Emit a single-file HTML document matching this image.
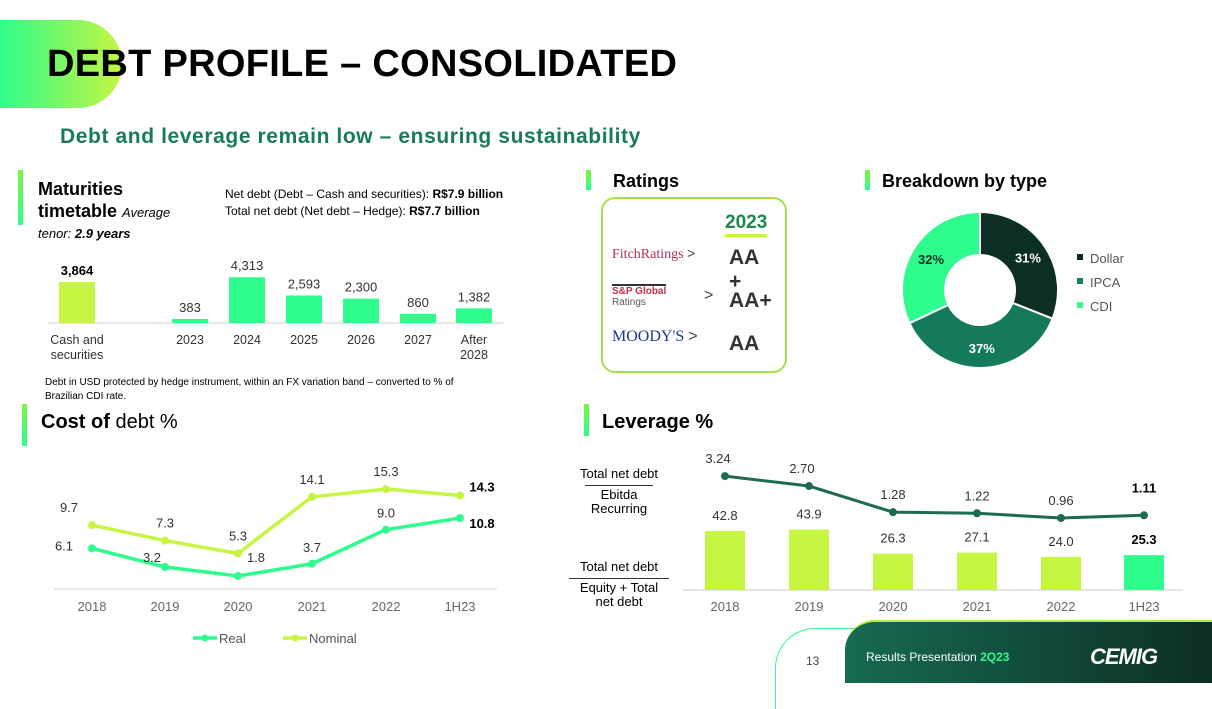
<!DOCTYPE html>
<html><head><meta charset="utf-8"><style>
body{margin:0;width:1212px;height:681px;overflow:hidden;background:#fff;font-family:"Liberation Sans",sans-serif;position:relative}
.a{position:absolute;white-space:nowrap}
.bar{position:absolute;width:5px;background:linear-gradient(#7df542,#2efc8c)}
</style></head><body>
<div class="a" style="left:0;top:20px;width:122px;height:88px;border-radius:0 50px 50px 0;background:linear-gradient(90deg,#2efc8c,#c6f542)"></div>
<div class="a" style="left:47px;top:43px;font-size:38px;font-weight:bold;color:#000;letter-spacing:0.3px">DEBT PROFILE – CONSOLIDATED</div>
<div class="a" style="left:60px;top:125px;font-size:21px;font-weight:bold;color:#1a7a5a;letter-spacing:0.6px">Debt and leverage remain low – ensuring sustainability</div>

<div class="bar" style="left:18px;top:170px;height:55px"></div>
<div class="a" style="left:38px;top:178px;font-size:18px;font-weight:bold;line-height:22px">Maturities<br>timetable <span style="font-size:13px;font-weight:normal;font-style:italic">Average</span></div>
<div class="a" style="left:38px;top:226px;font-size:13px;font-style:italic">tenor: <b>2.9 years</b></div>
<div class="a" style="left:225px;top:186px;font-size:12px;line-height:17px">Net debt (Debt – Cash and securities): <b>R$7.9 billion</b><br>Total net debt (Net debt – Hedge): <b>R$7.7 billion</b></div>
<div class="a" style="left:45px;top:376px;font-size:10px;line-height:14px">Debt in USD protected by hedge instrument, within an FX variation band – converted to % of<br>Brazilian CDI rate.</div>

<div class="bar" style="left:586px;top:170px;height:20px"></div>
<div class="a" style="left:613px;top:171px;font-size:18px;font-weight:bold">Ratings</div>
<div class="a" style="left:601px;top:197px;width:182px;height:172px;border:2px solid #a8e04a;border-radius:14px"></div>
<div class="a" style="left:725px;top:212px;font-size:19px;font-weight:bold;color:#1a8a4a;border-bottom:3px solid #c6f542;line-height:22px">2023</div>
<div class="a" style="left:612px;top:245px;font-size:14px;font-family:'Liberation Serif',serif;color:#b0305a">FitchRatings <span style="color:#444;font-family:'Liberation Sans'">&gt;</span></div>
<div class="a" style="left:612px;top:284px;font-size:10px;line-height:11px;color:#c0304a;font-weight:bold;border-top:2px solid #333">S&amp;P Global<br><span style="color:#555;font-weight:normal">Ratings</span></div>
<div class="a" style="left:704px;top:287px;font-size:16px;color:#444">&gt;</div>
<div class="a" style="left:612px;top:328px;font-size:16px;font-family:'Liberation Serif',serif;color:#1a3a8a">MOODY'S <span style="color:#444;font-family:'Liberation Sans'">&gt;</span></div>
<div class="a" style="left:729px;top:246px;font-size:21px;font-weight:bold;color:#333">AA</div>
<div class="a" style="left:729px;top:272px;font-size:21px;font-weight:bold;color:#333;line-height:19px">+<br>AA+</div>
<div class="a" style="left:729px;top:332px;font-size:21px;font-weight:bold;color:#333">AA</div>

<div class="bar" style="left:865px;top:170px;height:20px"></div>
<div class="a" style="left:882px;top:171px;font-size:18px;font-weight:bold">Breakdown by type</div>

<div class="bar" style="left:22px;top:404px;height:42px"></div>
<div class="a" style="left:41px;top:411px;font-size:20px"><b>Cost of</b> debt %</div>
<div class="bar" style="left:584px;top:404px;height:32px"></div>
<div class="a" style="left:602px;top:411px;font-size:20px;font-weight:bold">Leverage %</div>

<div class="a" style="left:567px;top:467px;font-size:13px;text-align:center;line-height:14px;width:104px">Total net debt<div style="border-top:1px solid #333;margin:4px 18px 2px;"></div>Ebitda<br>Recurring</div>
<div class="a" style="left:567px;top:560px;font-size:13px;text-align:center;line-height:14px;width:104px">Total net debt<div style="border-top:1px solid #333;margin:4px 2px 2px;"></div>Equity + Total<br>net debt</div>

<div class="a" style="left:775px;top:628px;width:120px;height:80px;border:1.5px solid #2efc8c;border-radius:40px 0 0 0;border-right:none;border-bottom:none"></div>
<div class="a" style="left:806px;top:654px;font-size:12px;color:#444">13</div>
<div class="a" style="left:845px;top:620px;width:367px;height:61px;border-radius:30px 0 0 0;background:linear-gradient(90deg,#176a52,#0d2e25);border-top:2px solid #a8f042"></div>
<div class="a" style="left:866px;top:650px;font-size:12px;color:#fff">Results Presentation <b style="color:#2efc8c">2Q23</b></div>
<div class="a" style="left:1090px;top:644px;font-size:22px;font-weight:bold;color:#fff;letter-spacing:-1px;font-style:italic">CEMIG</div>

<svg class="a" style="left:0;top:0" width="1212" height="681" id="svg"></svg>
<script>
const matCats=["Cash and|securities","2023","2024","2025","2026","2027","After|2028"];
const matVals=[3864,383,4313,2593,2300,860,1382];
const matLabels=["3,864","383","4,313","2,593","2,300","860","1,382"];
const years=["2018","2019","2020","2021","2022","1H23"];
const realVals=[6.1,3.2,1.8,3.7,9.0,10.8];
const nomVals=[9.7,7.3,5.3,14.1,15.3,14.3];
const levBars=[42.8,43.9,26.3,27.1,24.0,25.3];
const levLine=[3.24,2.70,1.28,1.22,0.96,1.11];
const pieNames=["Dollar","IPCA","CDI"];
const pieVals=[31,37,32];
const svg=document.getElementById('svg');
const NS="http://www.w3.org/2000/svg";
function mk(t,a,txt){const e=document.createElementNS(NS,t);for(const k in a)e.setAttribute(k,a[k]);if(txt!==undefined)e.textContent=txt;svg.appendChild(e);return e;}
function txt(x,y,s,o){return mk('text',Object.assign({x:x,y:y,'font-size':13,'text-anchor':'middle',fill:'#333','font-family':'Liberation Sans'},o||{}),s);}
// maturities
const mx=[77,190,247,304,361,418,474], mBase=323, mS=41/3864;
mk('line',{x1:48,x2:503,y1:mBase,y2:mBase,stroke:'#ccc'});
matVals.forEach((v,i)=>{const h=v*mS;
 const r=mk('rect',{x:mx[i]-18,y:mBase-h,width:36,height:h,fill:i==0?'#c6f542':'#2efc8c'});
 
 txt(mx[i],mBase-h-7,matLabels[i],{'font-weight':i==0?'bold':'normal','fill':i==0?'#000':'#333'});
 matCats[i].split('|').forEach((l,j)=>txt(mx[i],344+j*15,l,{'font-size':12.5}));
});
// cost of debt
const cx=[92,165,238,312,386,460]; const cy=v=>587.6-v*6.44;
mk('line',{x1:54,x2:497,y1:589,y2:589,stroke:'#ccc'});
years.forEach((y,i)=>txt(cx[i],611,y,{fill:'#666'}));
function series(vals,col,name,offs){
 mk('polyline',{points:vals.map((v,i)=>cx[i]+','+cy(v)).join(' '),fill:'none',stroke:col,'stroke-width':3.5});
 vals.forEach((v,i)=>{const c=mk('circle',{cx:cx[i],cy:cy(v),r:4,fill:col});
  const last=i==vals.length-1;
  txt(last?cx[i]+22:cx[i]+offs[i][0],cy(v)+offs[i][1],v.toFixed(1),last?{'font-weight':'bold',fill:'#000'}:{});});
}
series(nomVals,'#c6f542','nominal',[[-23,-13],[0,-13],[0,-13],[0,-13],[0,-13],[0,-4]]);
series(realVals,'#2efc8c','real',[[-28,2],[-13,-5],[18,-14],[0,-12],[0,-12],[0,10]]);
mk('line',{x1:193,x2:217,y1:638,y2:638,stroke:'#2efc8c','stroke-width':3.5});mk('circle',{cx:205,cy:638,r:3.5,fill:'#2efc8c'});
txt(219,643,'Real',{'text-anchor':'start',fill:'#555'});
mk('line',{x1:283,x2:307,y1:638,y2:638,stroke:'#c6f542','stroke-width':3.5});mk('circle',{cx:295,cy:638,r:3.5,fill:'#c6f542'});
txt(309,643,'Nominal',{'text-anchor':'start',fill:'#555'});
// leverage
const lx=[725,809,893,977,1061,1144], lBase=590, lS=59/42.8, ly=v=>535.7-v*18.4;
mk('line',{x1:683,x2:1183,y1:lBase,y2:lBase,stroke:'#ccc'});
levBars.forEach((v,i)=>{const h=v*lS,last=i==5;
 const r=mk('rect',{x:lx[i]-20,y:lBase-h,width:40,height:h,fill:last?'#2efc8c':'#c6f542'});
 
 txt(lx[i],lBase-h-11,v.toFixed(1),last?{'font-weight':'bold',fill:'#000'}:{});
 txt(lx[i],611,years[i],{fill:'#666'});
});
mk('polyline',{points:levLine.map((v,i)=>lx[i]+','+ly(v)).join(' '),fill:'none',stroke:'#1e6b50','stroke-width':3});
levLine.forEach((v,i)=>{const c=mk('circle',{cx:lx[i],cy:ly(v),r:4,fill:'#1e6b50'});
 const last=i==5;txt(last?lx[i]:(i<2?lx[i]-7:lx[i]),last?ly(v)-23:ly(v)-13,v.toFixed(2),last?{'font-weight':'bold',fill:'#000'}:{});});
// donut
const pc=[980,290],R=78,r0=35,cols=['#0d2e25','#157a5c','#2efc8c'],tcol=['#fff','#fff','#0d2e25'];
let tot=pieVals.reduce((a,b)=>a+b,0),a0=-Math.PI/2;
pieVals.forEach((v,i)=>{const a1=a0+v/tot*2*Math.PI,lg=(a1-a0)>Math.PI?1:0;
 const P=(rr,a)=>(pc[0]+rr*Math.cos(a))+','+(pc[1]+rr*Math.sin(a));
 const p=mk('path',{d:`M${P(R,a0)}A${R},${R} 0 ${lg} 1 ${P(R,a1)}L${P(r0,a1)}A${r0},${r0} 0 ${lg} 0 ${P(r0,a0)}Z`,fill:cols[i],stroke:'#fff','stroke-width':2});
 
 const am=(a0+a1)/2;txt(pc[0]+58*Math.cos(am),pc[1]+58*Math.sin(am)+5,v+'%',{'font-weight':'bold',fill:tcol[i]});
 mk('rect',{x:1077,y:254+i*24,width:6,height:6,fill:cols[i]});
 txt(1090,263+i*24,pieNames[i],{'text-anchor':'start',fill:'#555'});
 a0=a1;});
</script>
</body></html>
